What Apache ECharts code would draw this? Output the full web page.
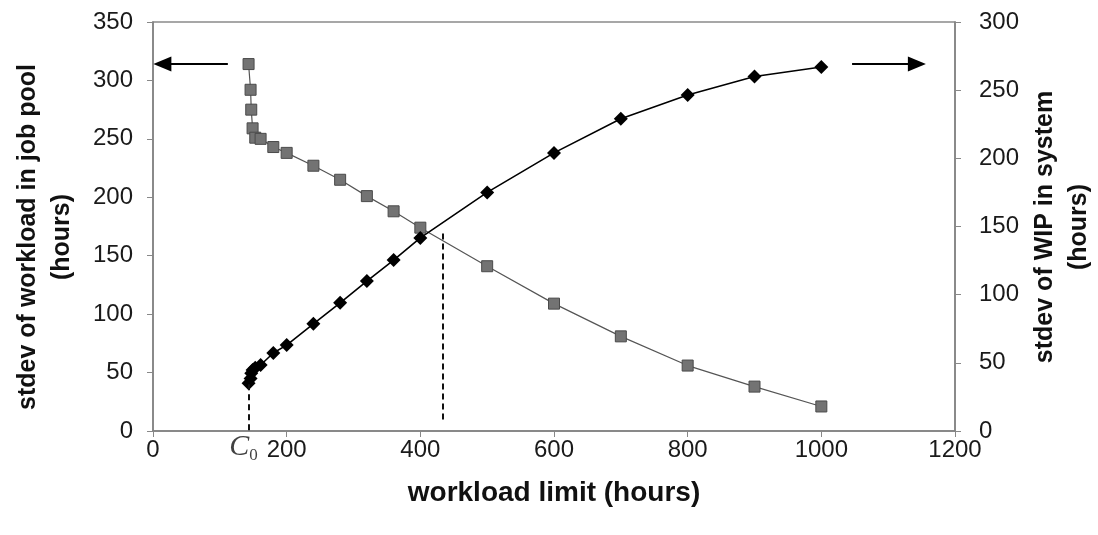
<!DOCTYPE html>
<html>
<head>
<meta charset="utf-8">
<script src="https://cdn.jsdelivr.net/npm/echarts@6/dist/echarts.min.js"></script>
<style>
html,body{margin:0;padding:0;background:#fff;}
#chart{width:1098px;height:535px;}
</style>
</head>
<body>
<div id="chart"></div>
<script>
// workload limit (hours)
var workloadLimit = [143, 146, 147, 149, 153, 161, 180, 200, 240, 280, 320, 360, 400, 500, 600, 700, 800, 900, 1000];
// stdev of workload in job pool (hours) - left axis, squares
var jobPoolStdev = [314, 292, 275, 259, 251, 250, 243, 238, 227, 215, 201, 188, 174, 141, 109, 81, 56, 38, 21];
// stdev of WIP in system (hours) - right axis, diamonds
var wipStdev = [35, 38.6, 42.3, 44.7, 46.4, 48.4, 57.2, 63, 78.6, 94, 110, 125.4, 141.6, 175, 204, 229, 246.5, 260, 267];

var xTicks = [0, 200, 400, 600, 800, 1000, 1200];
var leftTicks = [0, 50, 100, 150, 200, 250, 300, 350];
var rightTicks = [0, 50, 100, 150, 200, 250, 300];

// annotations (data units, left axis)
var c0Line = [[143, 40], [143, 0]];
var crossLine = [[433, 169], [433, 8]];
var leftArrow = [[112, 314], [14, 314]];
var rightArrow = [[1046, 314], [1143, 314]];
var c0Label = [143, 0];

function pairs(arr1, arr2) {
  return arr1.map(function (x, i) { return [x, arr2[i]]; });
}

var chart = echarts.init(document.getElementById('chart'));
var tickFont = { fontFamily: 'Liberation Sans', fontSize: 24, color: '#1a1a1a' };
var axisLineStyle = { color: '#808080', width: 1.5 };
var plain = function (v) { return String(v); };

var option = {
  animation: false,
  backgroundColor: '#fff',
  grid: { left: 153, right: 143, top: 22, bottom: 104, show: true, borderColor: '#8a8a8a', borderWidth: 1.5 },
  xAxis: {
    type: 'value',
    min: xTicks[0], max: xTicks[xTicks.length - 1], interval: 200,
    axisLine: { show: true, lineStyle: axisLineStyle },
    axisTick: { show: true, length: 6, lineStyle: { color: '#888' } },
    axisLabel: Object.assign({ margin: 7, formatter: plain }, tickFont),
    splitLine: { show: false },
    name: 'workload limit (hours)',
    nameLocation: 'middle',
    nameGap: 48,
    nameTextStyle: { fontFamily: 'Liberation Sans', fontWeight: 'bold', fontSize: 28, color: '#111' }
  },
  yAxis: [{
    type: 'value', position: 'left',
    min: leftTicks[0], max: leftTicks[leftTicks.length - 1], interval: 50,
    axisLine: { show: true, lineStyle: axisLineStyle },
    axisTick: { show: true, length: 6, lineStyle: { color: '#888' } },
    axisLabel: Object.assign({ margin: 20, formatter: plain }, tickFont),
    splitLine: { show: false }
  }, {
    type: 'value', position: 'right',
    min: rightTicks[0], max: rightTicks[rightTicks.length - 1], interval: 50,
    axisLine: { show: true, lineStyle: axisLineStyle },
    axisTick: { show: true, length: 6, lineStyle: { color: '#888' } },
    axisLabel: Object.assign({ margin: 24, formatter: plain }, tickFont),
    splitLine: { show: false }
  }],
  graphic: [{
    type: 'text', x: 45, y: 237, rotation: Math.PI / 2,
    style: {
      text: 'stdev of workload in job pool\n(hours)',
      align: 'center', verticalAlign: 'middle', lineHeight: 34,
      font: 'bold 25px "Liberation Sans"', fill: '#111'
    }
  }, {
    type: 'text', x: 1062, y: 227, rotation: Math.PI / 2,
    style: {
      text: 'stdev of WIP in system\n(hours)',
      align: 'center', verticalAlign: 'middle', lineHeight: 34,
      font: 'bold 25px "Liberation Sans"', fill: '#111'
    }
  }],
  series: [{
    name: 'job pool',
    type: 'line',
    yAxisIndex: 0,
    data: pairs(workloadLimit, jobPoolStdev),
    symbol: 'rect',
    symbolSize: 11,
    lineStyle: { color: '#555', width: 1.2 },
    itemStyle: { color: '#737373', borderColor: '#4a4a4a', borderWidth: 1 },
    z: 3,
    markLine: {
      silent: true,
      symbol: ['none', 'none'],
      label: { show: false },
      lineStyle: { color: '#111', width: 2, type: [6, 4] },
      data: [
        [{ coord: c0Line[0] }, { coord: c0Line[1] }],
        [{ coord: crossLine[0] }, { coord: crossLine[1] }]
      ]
    }
  }, {
    name: 'WIP',
    type: 'line',
    yAxisIndex: 1,
    data: pairs(workloadLimit, wipStdev),
    symbol: 'diamond',
    symbolSize: 14,
    lineStyle: { color: '#000', width: 1.6 },
    itemStyle: { color: '#000' },
    z: 4
  }, {
    name: 'arrows',
    type: 'scatter',
    yAxisIndex: 0,
    data: [],
    markLine: {
      silent: true,
      symbol: ['none', 'triangle'],
      symbolSize: [15, 18],
      label: { show: false },
      lineStyle: { color: '#000', width: 2, type: 'solid' },
      data: [
        [{ coord: leftArrow[0] }, { coord: leftArrow[1] }],
        [{ coord: rightArrow[0] }, { coord: rightArrow[1] }]
      ]
    }
  }, {
    name: 'C0',
    type: 'scatter',
    yAxisIndex: 0,
    data: [c0Label],
    symbolSize: 0,
    silent: true,
    label: {
      show: true,
      position: 'bottom',
      distance: 0,
      offset: [-5, 0],
      formatter: '{c|C}{s|0}',
      rich: {
        c: { fontFamily: 'Liberation Serif', fontStyle: 'italic', fontSize: 30, color: '#111' },
        s: { fontFamily: 'Liberation Serif', fontSize: 17, color: '#111', padding: [16, 0, 0, 0] }
      }
    }
  }]
};
chart.setOption(option);
</script>
</body>
</html>
